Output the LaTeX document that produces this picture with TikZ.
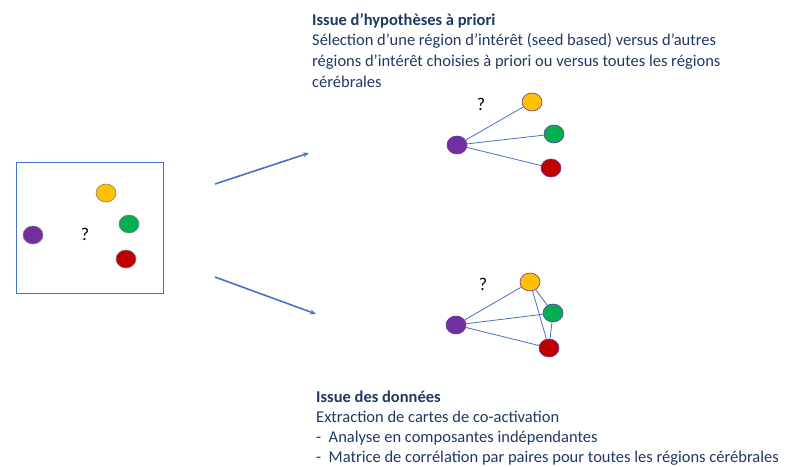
\documentclass[tikz,border=0pt]{standalone}
\usepackage{fontspec}
\setmainfont{Carlito}
\usepackage{tikz}
\definecolor{myyellow}{RGB}{255,192,0}
\definecolor{mygreen}{RGB}{0,176,80}
\definecolor{myred}{RGB}{192,0,0}
\definecolor{mypurple}{RGB}{112,48,160}
\definecolor{myblue}{RGB}{68,114,196}
\definecolor{mynavy}{RGB}{31,56,100}
\usetikzlibrary{positioning,shapes.geometric,arrows.meta}

\begin{document}
\begin{tikzpicture}[x=1pt, y=-1pt,
    roi/.style={draw, ellipse, minimum width=20pt, minimum height=18pt, inner sep=0pt, line width=0.6pt},
    lien/.style={myblue, line width=0.8pt},
    fleche/.style={myblue, line width=1.6pt, -{Stealth[length=6pt, width=5pt]}},
    qmark/.style={font=\fontsize{18pt}{20pt}\selectfont, inner sep=0pt},
    txt/.style={anchor=base west, align=left, text=mynavy, font=\fontsize{16.5pt}{20.6pt}\selectfont, inner sep=0pt}]
    \useasboundingbox (0,0) rectangle (795,466);
    % boite de depart
    \node (boite) [draw=myblue, line width=0.8pt, minimum width=147pt, minimum height=131pt, inner sep=0pt] at (89.5,227.5) {};
    \node (b1) [roi, fill=myyellow, draw=gray] at (106,193) {};
    \node (b2) [roi, fill=mygreen, draw=gray] at (129,224) {};
    \node (b3) [roi, fill=mypurple, draw=gray] at (33,235) {};
    \node (b4) [roi, fill=myred, draw=gray] at (126,259) {};
    \node (bq) [qmark] at (85,234) {?};
    % fleches
    \coordinate (h1) at (215,184);
    \coordinate (h2) at (309,153);
    \coordinate (d1) at (215,277);
    \coordinate (d2) at (316,314);
    \draw[fleche] (h1) -- (h2);
    \draw[fleche] (d1) -- (d2);
    % graphe du haut (seed based)
    \node (s0) [roi, fill=mypurple, draw=mypurple] at (457,145) {};
    \node (s1) [roi, fill=myyellow, draw=mypurple] at (532,102) {};
    \node (s2) [roi, fill=mygreen, draw=mypurple] at (554,134) {};
    \node (s3) [roi, fill=myred, draw=mypurple] at (551,168) {};
    \node (sq) [qmark] at (481,104) {?};
    \draw[lien] (s0) -- (s1);
    \draw[lien] (s0) -- (s2);
    \draw[lien] (s0) -- (s3);
    % graphe du bas (toutes les paires)
    \node (t0) [roi, fill=mypurple, draw=mypurple] at (456,325) {};
    \node (t1) [roi, fill=myyellow, draw=mypurple] at (530,282) {};
    \node (t2) [roi, fill=mygreen, draw=mypurple] at (553,313) {};
    \node (t3) [roi, fill=myred, draw=mypurple] at (549,348) {};
    \node (tq) [qmark] at (483,284) {?};
    \draw[lien] (t0) -- (t1);
    \draw[lien] (t0) -- (t2);
    \draw[lien] (t0) -- (t3);
    \draw[lien] (t1) -- (t2);
    \draw[lien] (t1) -- (t3);
    \draw[lien] (t2) -- (t3);
    % textes (ancre sur la derniere ligne)
    \node (haut) [txt] at (312,87) {\textbf{Issue d’hypothèses à priori}\\
        Sélection d’une région d’intérêt (seed based) versus d’autres\\
        régions d’intérêt choisies à priori ou versus toutes les régions\\
        cérébrales};
    \node (bas) [txt, font=\fontsize{16.5pt}{19.7pt}\selectfont] at (316,462) {\textbf{Issue des données}\\
        Extraction de cartes de co-activation\\
        -\ \ Analyse en composantes indépendantes\\
        -\ \ Matrice de corrélation par paires pour toutes les régions cérébrales};
\end{tikzpicture}
\end{document}
